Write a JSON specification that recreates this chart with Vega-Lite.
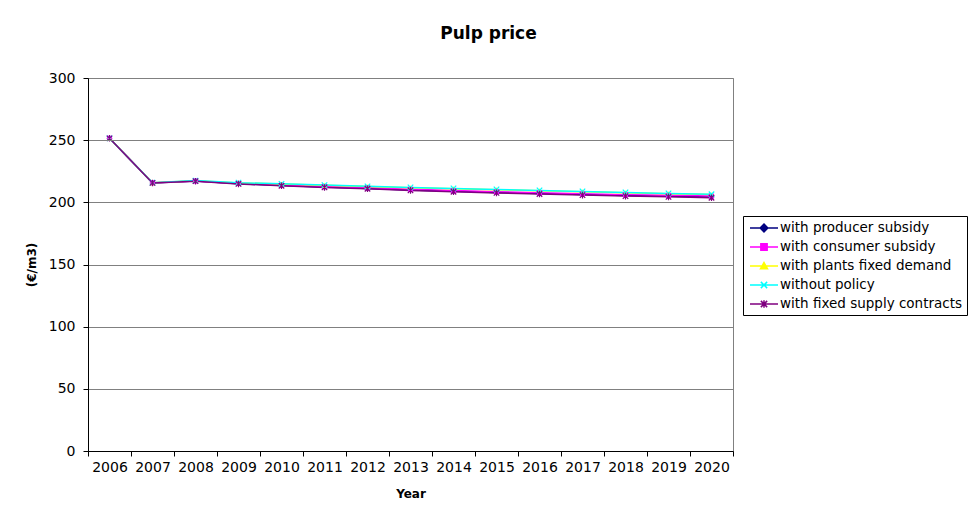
{
  "$schema": "https://vega.github.io/schema/vega-lite/v6.json",
  "width": 645,
  "height": 373,
  "autosize": {"type": "none"},
  "padding": {"left": 88, "top": 78, "right": 236, "bottom": 63},
  "background": "white",
  "title": {
    "text": "Pulp price",
    "font": "DejaVu Sans",
    "fontSize": 17,
    "fontWeight": "bold",
    "color": "black",
    "anchor": "middle",
    "frame": "group",
    "dx": 78,
    "offset": 28
  },
  "data": {
    "values": [
      {"year": "2006", "series": "with producer subsidy", "price": 251.5},
      {"year": "2007", "series": "with producer subsidy", "price": 215.6},
      {"year": "2008", "series": "with producer subsidy", "price": 217.1},
      {"year": "2009", "series": "with producer subsidy", "price": 215.0},
      {"year": "2010", "series": "with producer subsidy", "price": 213.6},
      {"year": "2011", "series": "with producer subsidy", "price": 212.3},
      {"year": "2012", "series": "with producer subsidy", "price": 211.2},
      {"year": "2013", "series": "with producer subsidy", "price": 210.0},
      {"year": "2014", "series": "with producer subsidy", "price": 208.9},
      {"year": "2015", "series": "with producer subsidy", "price": 208.0},
      {"year": "2016", "series": "with producer subsidy", "price": 207.1},
      {"year": "2017", "series": "with producer subsidy", "price": 206.3},
      {"year": "2018", "series": "with producer subsidy", "price": 205.5},
      {"year": "2019", "series": "with producer subsidy", "price": 204.9},
      {"year": "2020", "series": "with producer subsidy", "price": 204.2},

      {"year": "2006", "series": "with consumer subsidy", "price": 251.5},
      {"year": "2007", "series": "with consumer subsidy", "price": 215.7},
      {"year": "2008", "series": "with consumer subsidy", "price": 217.2},
      {"year": "2009", "series": "with consumer subsidy", "price": 215.2},
      {"year": "2010", "series": "with consumer subsidy", "price": 213.9},
      {"year": "2011", "series": "with consumer subsidy", "price": 212.7},
      {"year": "2012", "series": "with consumer subsidy", "price": 211.7},
      {"year": "2013", "series": "with consumer subsidy", "price": 210.5},
      {"year": "2014", "series": "with consumer subsidy", "price": 209.5},
      {"year": "2015", "series": "with consumer subsidy", "price": 208.6},
      {"year": "2016", "series": "with consumer subsidy", "price": 207.8},
      {"year": "2017", "series": "with consumer subsidy", "price": 207.0},
      {"year": "2018", "series": "with consumer subsidy", "price": 206.2},
      {"year": "2019", "series": "with consumer subsidy", "price": 205.6},
      {"year": "2020", "series": "with consumer subsidy", "price": 205.0},

      {"year": "2006", "series": "with plants fixed demand", "price": 251.5},
      {"year": "2007", "series": "with plants fixed demand", "price": 215.7},
      {"year": "2008", "series": "with plants fixed demand", "price": 217.4},
      {"year": "2009", "series": "with plants fixed demand", "price": 215.6},
      {"year": "2010", "series": "with plants fixed demand", "price": 214.7},
      {"year": "2011", "series": "with plants fixed demand", "price": 213.7},
      {"year": "2012", "series": "with plants fixed demand", "price": 212.7},
      {"year": "2013", "series": "with plants fixed demand", "price": 211.8},
      {"year": "2014", "series": "with plants fixed demand", "price": 211.0},
      {"year": "2015", "series": "with plants fixed demand", "price": 210.2},
      {"year": "2016", "series": "with plants fixed demand", "price": 209.4},
      {"year": "2017", "series": "with plants fixed demand", "price": 208.6},
      {"year": "2018", "series": "with plants fixed demand", "price": 207.8},
      {"year": "2019", "series": "with plants fixed demand", "price": 207.0},
      {"year": "2020", "series": "with plants fixed demand", "price": 206.3},

      {"year": "2006", "series": "without policy", "price": 251.5},
      {"year": "2007", "series": "without policy", "price": 215.8},
      {"year": "2008", "series": "without policy", "price": 217.5},
      {"year": "2009", "series": "without policy", "price": 215.8},
      {"year": "2010", "series": "without policy", "price": 214.9},
      {"year": "2011", "series": "without policy", "price": 213.9},
      {"year": "2012", "series": "without policy", "price": 212.9},
      {"year": "2013", "series": "without policy", "price": 212.0},
      {"year": "2014", "series": "without policy", "price": 211.2},
      {"year": "2015", "series": "without policy", "price": 210.4},
      {"year": "2016", "series": "without policy", "price": 209.6},
      {"year": "2017", "series": "without policy", "price": 208.8},
      {"year": "2018", "series": "without policy", "price": 208.0},
      {"year": "2019", "series": "without policy", "price": 207.2},
      {"year": "2020", "series": "without policy", "price": 206.5},

      {"year": "2006", "series": "with fixed supply contracts", "price": 251.5},
      {"year": "2007", "series": "with fixed supply contracts", "price": 215.6},
      {"year": "2008", "series": "with fixed supply contracts", "price": 217.0},
      {"year": "2009", "series": "with fixed supply contracts", "price": 214.8},
      {"year": "2010", "series": "with fixed supply contracts", "price": 213.3},
      {"year": "2011", "series": "with fixed supply contracts", "price": 212.0},
      {"year": "2012", "series": "with fixed supply contracts", "price": 210.9},
      {"year": "2013", "series": "with fixed supply contracts", "price": 209.6},
      {"year": "2014", "series": "with fixed supply contracts", "price": 208.5},
      {"year": "2015", "series": "with fixed supply contracts", "price": 207.6},
      {"year": "2016", "series": "with fixed supply contracts", "price": 206.7},
      {"year": "2017", "series": "with fixed supply contracts", "price": 205.8},
      {"year": "2018", "series": "with fixed supply contracts", "price": 205.0},
      {"year": "2019", "series": "with fixed supply contracts", "price": 204.4},
      {"year": "2020", "series": "with fixed supply contracts", "price": 203.7}
    ]
  },
  "encoding": {
    "x": {
      "field": "year",
      "type": "ordinal",
      "title": "Year",
      "scale": {"type": "band", "paddingInner": 0, "paddingOuter": 0},
      "axis": {
        "labelAngle": 0,
        "tickBand": "extent",
        "grid": false,
        "domainColor": "black",
        "tickColor": "black",
        "tickSize": 5,
        "labelFont": "DejaVu Sans",
        "labelFontSize": 14,
        "labelColor": "black",
        "labelPadding": 4,
        "titleFont": "DejaVu Sans",
        "titleFontSize": 12,
        "titleFontWeight": "bold",
        "titleColor": "black",
        "titlePadding": 14,
        "zindex": 1
      }
    },
    "y": {
      "field": "price",
      "type": "quantitative",
      "title": "(€/m3)",
      "scale": {"domain": [0, 300]},
      "axis": {
        "values": [0, 50, 100, 150, 200, 250, 300],
        "grid": true,
        "gridColor": "#808080",
        "domainColor": "black",
        "tickColor": "black",
        "tickSize": 5,
        "labelFont": "DejaVu Sans",
        "labelFontSize": 14,
        "labelColor": "black",
        "labelPadding": 8,
        "titleFont": "DejaVu Sans",
        "titleFontSize": 12,
        "titleFontWeight": "bold",
        "titleColor": "black",
        "titlePadding": 10,
        "zindex": 1
      }
    }
  },
  "layer": [
    {
      "mark": {"type": "line", "strokeWidth": 1.5},
      "encoding": {
        "color": {
          "field": "series",
          "type": "nominal",
          "scale": {
            "domain": ["with producer subsidy", "with consumer subsidy", "with plants fixed demand", "without policy", "with fixed supply contracts"],
            "range": ["#000080", "#FF00FF", "#FFFF00", "#00FFFF", "#800080"]
          },
          "legend": {
            "title": null,
            "orient": "none",
            "legendX": 655,
            "legendY": 138,
            "strokeColor": "black",
            "fillColor": "white",
            "padding": 4,
            "symbolSize": 196,
            "symbolOffset": 9,
            "labelOffset": 8,
            "rowPadding": 4,
            "labelFont": "DejaVu Sans",
            "labelFontSize": 13.5,
            "labelColor": "black",
            "labelLimit": 300,
            "symbolStrokeWidth": 1.5,
            "encode": {
              "symbols": {
                "update": {
                  "shape": {"signal": "datum.value === 'with producer subsidy' ? 'M-2,0H2M0,-0.55L0.55,0L0,0.55L-0.55,0Z' : datum.value === 'with consumer subsidy' ? 'M-2,0H2M-0.45,-0.45H0.45V0.45H-0.45Z' : datum.value === 'with plants fixed demand' ? 'M-2,0H2M0,-0.5L0.5,0.4H-0.5Z' : datum.value === 'without policy' ? 'M-2,0H2M-0.45,-0.45L0.45,0.45M-0.45,0.45L0.45,-0.45' : 'M-2,0H2M-0.45,-0.45L0.45,0.45M-0.45,0.45L0.45,-0.45M0,-0.55V0.55'"},
                  "fill": {"scale": "color", "field": "value"},
                  "stroke": {"scale": "color", "field": "value"},
                  "strokeWidth": {"value": 1.5},
                  "opacity": {"value": 1}
                }
              }
            }
          }
        }
      }
    },
    {
      "transform": [{"filter": "datum.series === 'with producer subsidy'"}],
      "mark": {"type": "point", "shape": "diamond", "filled": true, "opacity": 1, "size": 34, "color": "#000080"}
    },
    {
      "transform": [{"filter": "datum.series === 'with consumer subsidy'"}],
      "mark": {"type": "point", "shape": "square", "filled": true, "opacity": 1, "size": 26, "color": "#FF00FF"}
    },
    {
      "transform": [{"filter": "datum.series === 'with plants fixed demand'"}],
      "mark": {"type": "point", "shape": "triangle-up", "filled": true, "opacity": 1, "size": 30, "color": "#FFFF00"}
    },
    {
      "transform": [{"filter": "datum.series === 'without policy'"}],
      "mark": {"type": "point", "shape": "M-1,-1L1,1M-1,1L1,-1", "filled": false, "opacity": 1, "size": 30, "strokeWidth": 1.2, "color": "#00FFFF"}
    },
    {
      "transform": [{"filter": "datum.series === 'with fixed supply contracts'"}],
      "mark": {"type": "point", "shape": "M-1,-1L1,1M-1,1L1,-1M0,-1.2V1.2", "filled": false, "opacity": 1, "size": 30, "strokeWidth": 1.2, "color": "#800080"}
    }
  ],
  "config": {
    "view": {"stroke": "#808080"},
    "font": "DejaVu Sans"
  }
}
